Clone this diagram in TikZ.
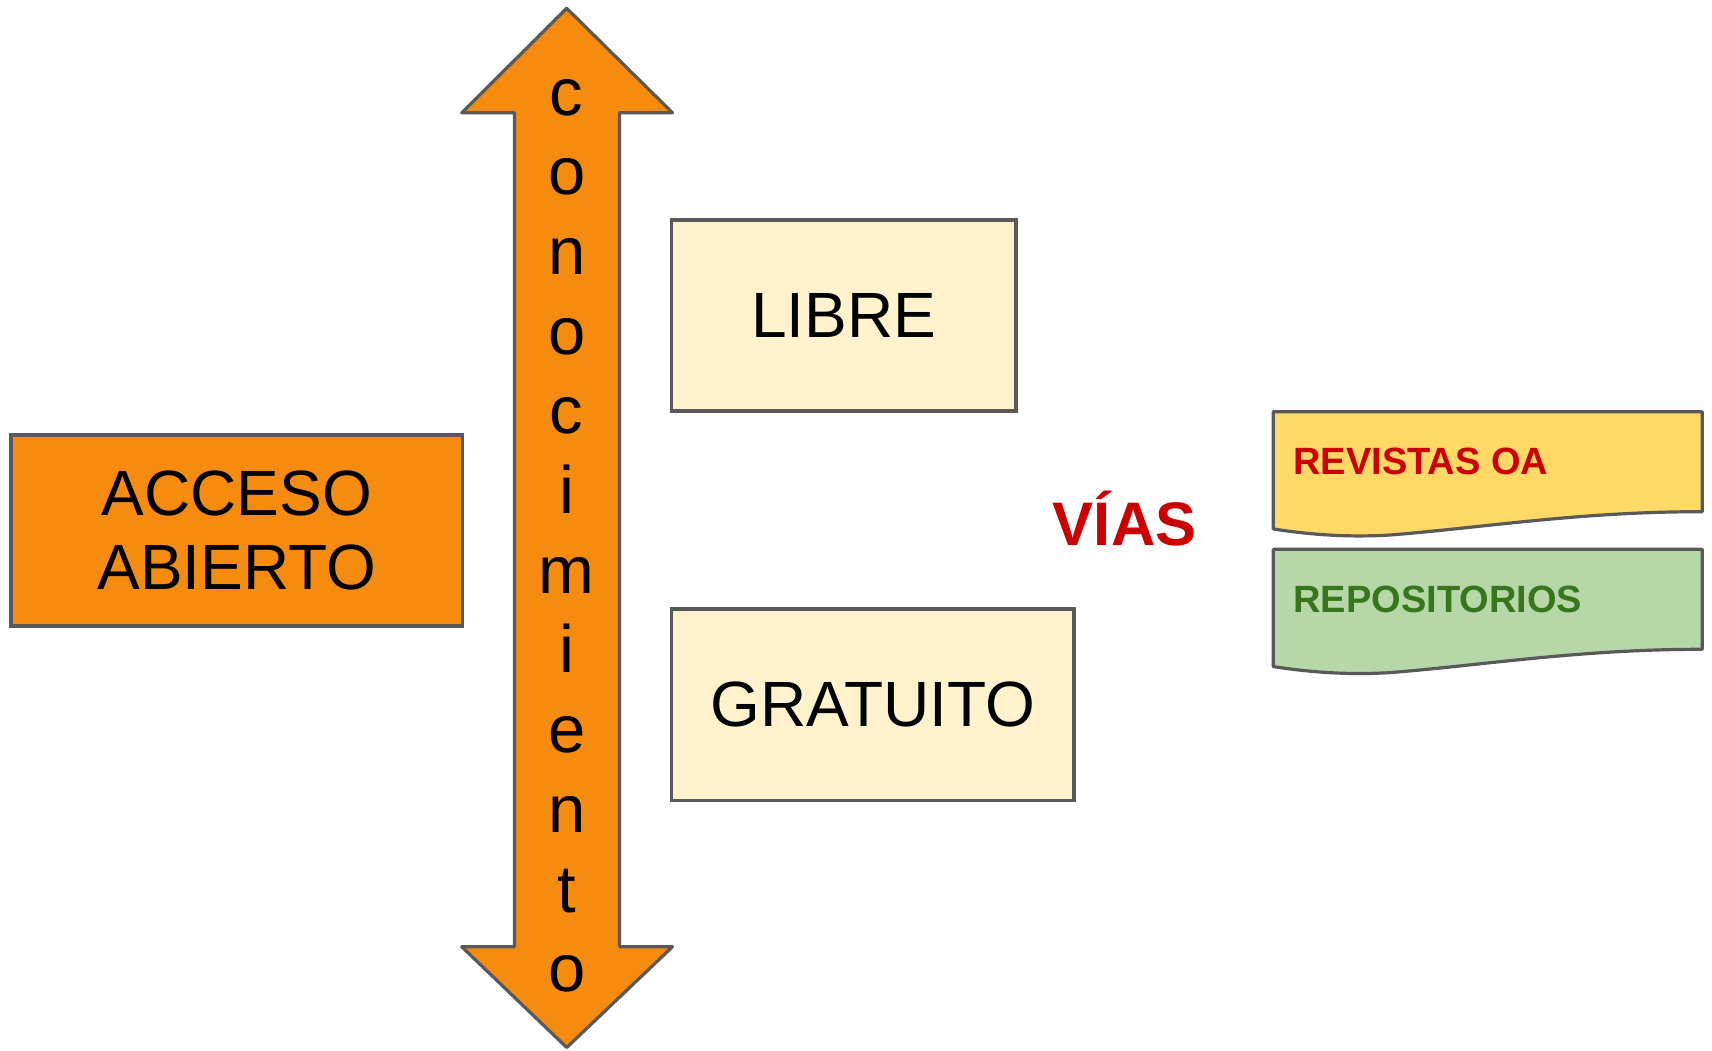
\documentclass[tikz,border=0pt]{standalone}
\usepackage{fontspec}
\setmainfont{Liberation Sans}
\definecolor{orangeF}{HTML}{F58C10}
\definecolor{creamF}{HTML}{FFF2CC}
\definecolor{yellowF}{HTML}{FFD966}
\definecolor{greenF}{HTML}{B6D7A8}
\definecolor{edgeC}{HTML}{595959}
\definecolor{redT}{HTML}{CC0000}
\definecolor{greenT}{HTML}{38761D}
\begin{document}
\begin{tikzpicture}[x=1pt,y=-1pt,
  box/.style={draw=edgeC, line width=3.2pt, inner sep=0pt, align=center,
    font=\fontsize{64}{73.3}\selectfont},
  letter/.style={inner sep=0pt, anchor=base, font=\fontsize{67}{67}\selectfont},
  doc/.style={draw=edgeC, line width=3.2pt, line join=round},
  doclabel/.style={inner sep=0pt, anchor=base west, font=\fontsize{38}{38}\selectfont\bfseries}
]
\useasboundingbox (0,0) rectangle (1712,1050);

% double arrow
\draw[draw=edgeC, fill=orangeF, line width=3.2pt, line join=round]
  (566.7,8.3) -- (672.5,112.8) -- (619.5,112.8) -- (619.5,946.7) -- (672.5,946.7)
  -- (566.7,1047.5) -- (461.7,946.7) -- (514.5,946.7) -- (514.5,112.8)
  -- (461.7,112.8) -- cycle;
\foreach \l [count=\i from 0] in {c,o,n,o,c,i,m,i,e,n,t,o}
  \node[letter] (k\i) at (566.7,115+79.7*\i) {\l};

% boxes
\node[box, fill=orangeF, minimum width=451.7pt, minimum height=191pt] (acceso)
  at (236.8,530.5) {ACCESO\\ABIERTO};
\node[box, fill=creamF, minimum width=344.3pt, minimum height=191pt] (libre)
  at (843.8,315.5) {LIBRE};
\node[box, fill=creamF, minimum width=402.3pt, minimum height=191.7pt] (gratuito)
  at (872.8,704.8) {GRATUITO};

% VIAS
\node[inner sep=0pt, anchor=base, text=redT, font=\fontsize{61.5}{61.5}\selectfont\bfseries]
  (vias) at (1124.7,545.7) {VÍAS};

% document shapes
\draw[doc, fill=yellowF]
  (1273.3,411.7) -- (1702.3,411.7) -- (1702.3,511.7)
  .. controls (1580,511.5) and (1480,528) .. (1390,535)
  .. controls (1340,538) and (1300,533) .. (1273.3,529) -- cycle;
\node[doclabel, text=redT] (revistas) at (1293.3,474) {REVISTAS OA};

\draw[doc, fill=greenF]
  (1273.3,549.3) -- (1702.3,549.3) -- (1702.3,649.3)
  .. controls (1580,649.1) and (1480,665.6) .. (1390,672.6)
  .. controls (1340,675.6) and (1300,670.6) .. (1273.3,666.6) -- cycle;
\node[doclabel, text=greenT] (repos) at (1293.3,612.3) {REPOSITORIOS};
\end{tikzpicture}
\end{document}
